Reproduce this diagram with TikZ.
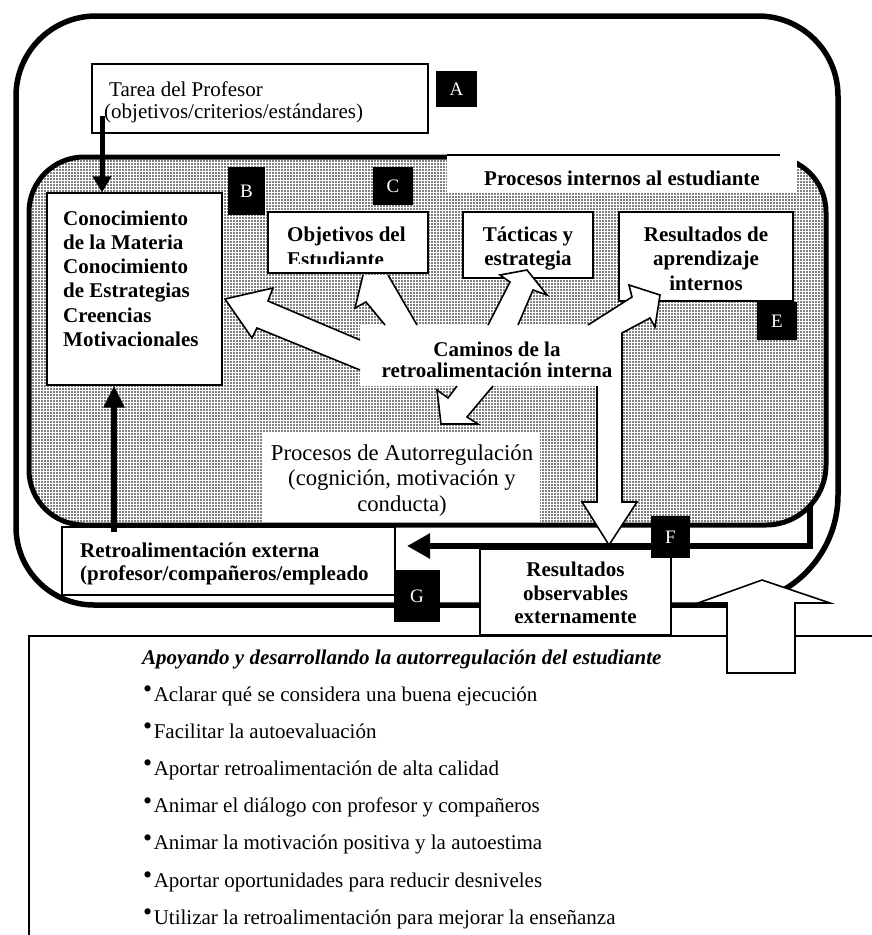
\documentclass[tikz,border=0pt]{standalone}
\usepackage{fontspec}
\setmainfont{Liberation Serif}
\usetikzlibrary{arrows.meta,patterns.meta,calc}
\newcommand\Lcol[2]{\vtop{\baselineskip=#1\relax\halign{##\hfil\cr#2\crcr}}}
\newcommand\Ccol[2]{\vtop{\baselineskip=#1\relax\halign{\hfil##\hfil\cr#2\crcr}}}
\newcommand\blt{\raisebox{3.5pt}{\fontsize{26}{26}\selectfont •}\kern1.5pt}
\tikzset{
  wbox/.style={draw, fill=white, line width=1.2pt, inner sep=0pt, rectangle},
  plainbox/.style={fill=white, inner sep=0pt, rectangle},
  bbox/.style={fill=black, text=white, inner sep=0pt, rectangle, font=\fontsize{19}{19}\selectfont},
  tb/.style={inner sep=0pt, font=\fontsize{21}{24}\selectfont\bfseries},
  tn/.style={inner sep=0pt, font=\fontsize{21}{24}\selectfont},
  tbi/.style={inner sep=0pt, font=\fontsize{21}{24}\selectfont\bfseries\itshape},
  harrow/.style={line width=1.6pt, line join=miter},
  fatline/.style={line width=#1},
}
\begin{document}
\begin{tikzpicture}[x=1pt,y=-1pt]
\fill[white] (0,0) rectangle (871,935);
\useasboundingbox (0,0) rectangle (871,935);

% outer frame
\draw[line width=5.5pt] (16,96) .. controls (16,51.8) and (51.8,16) .. (96,16) -- (758,16)
  .. controls (802.2,16) and (838,51.8) .. (838,96) -- (838,495)
  .. controls (838,555.7) and (788.7,605) .. (728,605) -- (94,605)
  .. controls (50.9,605) and (16,570.1) .. (16,527) -- cycle;

% inner frame (stippled)
\draw[line width=5pt, pattern={Dots[distance=3pt,radius=0.95pt]}, pattern color=black]
  (29,212) .. controls (29,181.6) and (53.6,157) .. (84,157) -- (771,157)
  .. controls (801.4,157) and (826,181.6) .. (826,212) -- (826,465)
  .. controls (826,498.1) and (799.1,525) .. (766,525) -- (84,525)
  .. controls (53.6,525) and (29,500.4) .. (29,470) -- cycle;

% label of inner frame
\node[plainbox, minimum width=350pt, minimum height=42pt] (pil) at (622,171) {};
\draw[line width=1.2pt] (447,155) -- (780,155);
\node[tb, anchor=base] (tpil) at (622,185) {Procesos internos al estudiante};

% boxes
\node[wbox, minimum width=336pt, minimum height=69pt] (tarea) at (260,98.5) {};
\node[bbox, minimum width=41pt, minimum height=36pt] (A) at (456.5,89) {A};
\node[wbox, minimum width=175pt, minimum height=192pt] (con) at (134.5,289) {};
\node[bbox, minimum width=37pt, minimum height=48pt] (B) at (246.5,191) {B};
\node[bbox, minimum width=40pt, minimum height=38pt] (C) at (393,186) {C};
\node[wbox, minimum width=160pt, minimum height=61pt] (obj) at (348,242.5) {};
\node[wbox, minimum width=130pt, minimum height=66pt] (tac) at (528,245) {};
\node[wbox, minimum width=174pt, minimum height=89pt] (resap) at (706,256.5) {};
\node[bbox, minimum width=40pt, minimum height=38pt] (E) at (777,321) {E};
\node[plainbox, minimum width=277pt, minimum height=90pt] (auto) at (401.5,477) {};

% texts
\node[tn, anchor=base west] (ttarea) at (104,96.7) {\Lcol{21.6pt}{\kern5pt Tarea del Profesor\cr(objetivos/criterios/estándares)}};
\node[tb, anchor=base west] (tcon) at (63,225) {\Lcol{24.3pt}{Conocimiento\cr de la Materia\cr Conocimiento\cr de Estrategias\cr Creencias\cr Motivacionales}};
\begin{scope}
  \clip (268,212) rectangle (428,263);
  \node[tb, anchor=base west] (tobj) at (287,241.7) {\Lcol{25pt}{Objetivos del\cr Estudiante}};
\end{scope}
\node[tb, anchor=base] (ttac) at (528,241.7) {\Ccol{23.3pt}{Tácticas y\cr estrategia}};
\node[tb, anchor=base] (tresap) at (706,241.7) {\Ccol{24.2pt}{Resultados de\cr aprendizaje\cr internos}};
\node[inner sep=0pt, font=\fontsize{22.7}{25.8}\selectfont, anchor=base] (tauto) at (402,460) {\Ccol{25.8pt}{Procesos de Autorregulación\cr (cognición, motivación y\cr conducta)}};

% internal feedback pathways (white block arrows from a hub)
\fill[white] (360,340) -- (268,301) -- (273,288) -- (225,299) -- (252,338) -- (257,328) -- (360,370)
  -- (360,386) -- (457,386) -- (448,398) -- (437,390) -- (441,424) -- (478,424) -- (467,417) -- (493,386)
  -- (597,386) -- (597,502) -- (582,502) -- (609,545) -- (637,502) -- (622,502) -- (622,333)
  -- (650,318) -- (655,327) -- (660,295) -- (629,285) -- (632,297) -- (588,325)
  -- (518,325) -- (533,290) -- (547,295) -- (527,270) -- (500,275) -- (510,282) -- (488,325)
  -- (417,325) -- (388,275) -- (363,275) -- (355,308) -- (366,302) -- (385,325) -- (360,325) -- cycle;
\draw[harrow] (360,340) -- (268,301) -- (273,288) -- (225,299) -- (252,338) -- (257,328) -- (360,370);
\draw[harrow] (457,386) -- (448,398) -- (437,390) -- (441,424) -- (478,424) -- (467,417) -- (493,386);
\draw[harrow] (597,386) -- (597,502) -- (582,502) -- (609,545) -- (637,502) -- (622,502) -- (622,333)
  -- (650,318) -- (655,327) -- (660,295) -- (629,285) -- (632,297) -- (588,325);
\draw[harrow] (488,325) -- (510,282) -- (500,275) -- (527,270) -- (547,295) -- (533,290) -- (518,325);
\draw[harrow] (385,325) -- (366,302) -- (355,308) -- (363,275);
\draw[harrow] (388,275) -- (417,325);
\node[tb, anchor=base] (tcam) at (497,356) {\Ccol{21.5pt}{Caminos de la\cr retroalimentación interna}};

% external part
\node[wbox, minimum width=333pt, minimum height=68pt] (retro) at (228.5,561) {};
\node[tb, anchor=base west] (tretro) at (80,557) {\Lcol{23pt}{Retroalimentación externa\cr (profesor/compañeros/empleado}};
\node[bbox, minimum width=46pt, minimum height=52pt] (G) at (417,596) {G};
\node[wbox, minimum width=191pt, minimum height=86pt] (resobs) at (575.5,592) {};
\node[tb, anchor=base] (tresobs) at (575.5,576.7) {\Ccol{23.5pt}{Resultados\cr observables\cr externamente}};

% connectors
\coordinate (ta) at (102,116);
\draw[fatline=5pt, -{Triangle[length=16pt,width=18pt]}] (ta) -- (ta |- con.north);
\coordinate (ra) at (114,532);
\draw[fatline=6pt, -{Triangle[length=22pt,width=20pt]}] (ra) -- (ra |- con.south);
\coordinate (fs) at (810,506);
\coordinate (fe) at (407,546);
\draw[fatline=6pt, -{Triangle[length=23pt,width=24pt]}] (fs) |- (fe);
\node[bbox, minimum width=39pt, minimum height=42pt] (F) at (670.5,537) {F};

% list box and upward arrow
\draw[line width=1.2pt] (875,636) -- (29,636) -- (29,940);
\draw[harrow, fill=white] (727,673) -- (727,603) -- (698,603) -- (762,580) -- (830,603) -- (795,603) -- (795,673) -- cycle;

\node[tbi, anchor=base west] (ltitle) at (142,664) {Apoyando y desarrollando la autorregulación del estudiante};
\node[tn, anchor=base west] (l1) at (143,701) {\blt Aclarar qué se considera una buena ejecución};
\node[tn, anchor=base west] (l2) at (143,738.2) {\blt Facilitar la autoevaluación};
\node[tn, anchor=base west] (l3) at (143,775.4) {\blt Aportar retroalimentación de alta calidad};
\node[tn, anchor=base west] (l4) at (143,812.6) {\blt Animar el diálogo con profesor y compañeros};
\node[tn, anchor=base west] (l5) at (143,849.8) {\blt Animar la motivación positiva y la autoestima};
\node[tn, anchor=base west] (l6) at (143,887) {\blt Aportar oportunidades para reducir desniveles};
\node[tn, anchor=base west] (l7) at (143,924.2) {\blt Utilizar la retroalimentación para mejorar la enseñanza};
\end{tikzpicture}
\end{document}
